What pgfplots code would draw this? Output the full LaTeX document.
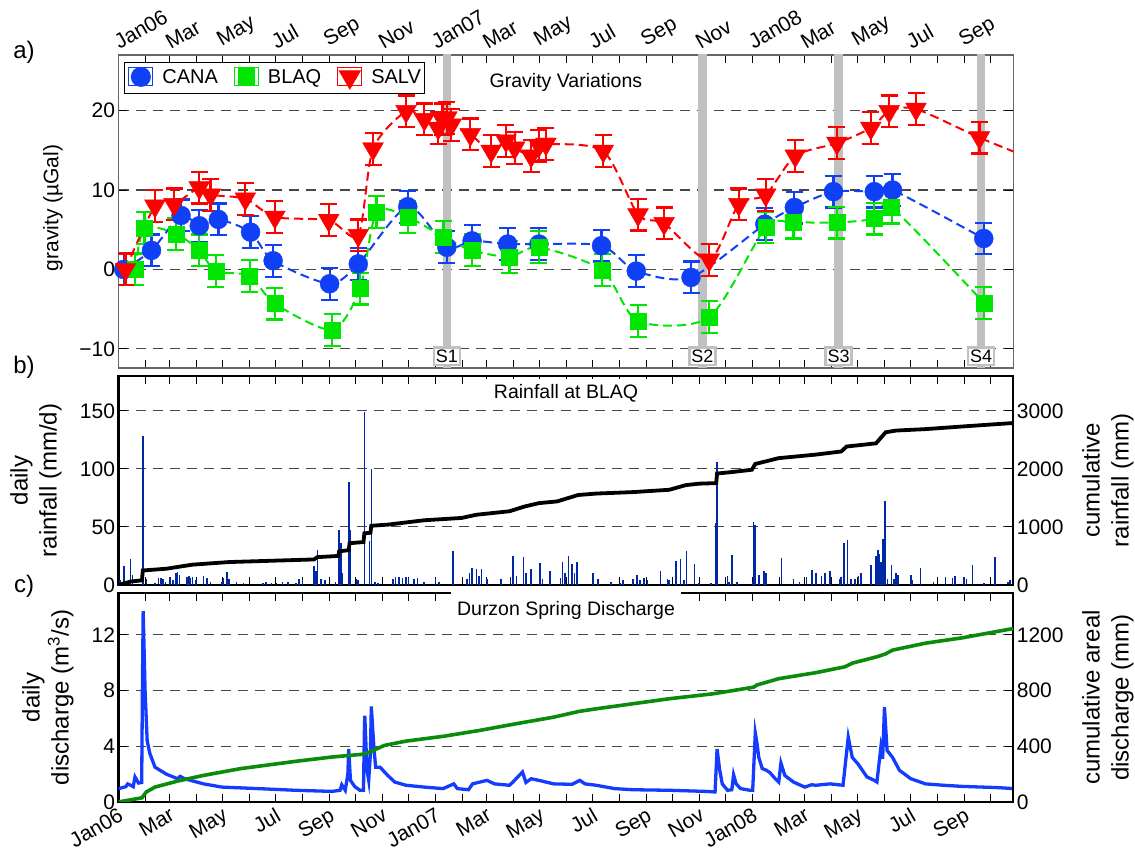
\documentclass[border=0pt]{standalone}
\usepackage{pgfplots}
\pgfplotsset{compat=1.18}
\usepackage{fontspec}
\setmainfont{Liberation Sans}
\definecolor{cana}{RGB}{16,64,245}
\definecolor{blaq}{RGB}{0,230,0}
\definecolor{salv}{RGB}{255,0,0}
\definecolor{rainb}{RGB}{0,40,165}
\definecolor{disch}{RGB}{20,60,255}
\definecolor{cumg}{RGB}{10,140,10}
\definecolor{sbar}{RGB}{192,192,192}
\pgfplotsset{
  common/.style={
    scale only axis, width=894.8pt, xmin=0, xmax=1030,
    xtick={0,59,120,181,243,304,365,424,485,546,608,669,730,790,851,912,974},
    minor xtick={31,90,151,212,273,334,396,455,516,577,638,699,761,821,882,943,1004},
    tick align=inside, major tick length=8pt, minor tick length=8pt,
    ymajorgrids, grid style={dash pattern=on 10pt off 7pt, black!72, line width=1.1pt},
    tick label style={font=\fontsize{21}{25}\selectfont},
    /pgf/number format/assume math mode=true,
    tick style={black, line width=1pt}, minor tick style={black, line width=1pt},
  },
  rightax/.style={
    scale only axis, width=894.8pt, xmin=0, xmax=1030,
    axis x line=none, axis y line*=right,
    tick align=inside, major tick length=8pt,
    tick label style={font=\fontsize{21}{25}\selectfont},
    /pgf/number format/assume math mode=true,
    tick style={black, line width=1pt},
    axis line style={black, line width=2.2pt},
  },
  ebar/.style={error bars/.cd, y dir=both, y fixed=2, error bar style={line width=2.2pt, #1},
    error mark options={rotate=90, mark size=8.5pt, line width=2.2pt, #1}},
}
\newcommand{\mlabels}{Jan06,Mar,May,Jul,Sep,Nov,Jan07,Mar,May,Jul,Sep,Nov,Jan08,Mar,May,Jul,Sep}
\begin{document}
\begin{tikzpicture}
\useasboundingbox (0,0) rectangle (1135pt,850pt);
% ---------------- panel a
\begin{axis}[common, at={(118.5pt,482pt)}, anchor=south west, height=313pt,
  ymin=-12.4, ymax=27, ytick={-10,0,10,20}, yticklabels={−10,0,10,20},
  xticklabel pos=upper, xticklabels/.expand once={\mlabels},
  xticklabel style={rotate=30, anchor=south west, font=\fontsize{21}{25}\selectfont},
  axis line style={black!60, line width=1.2pt},
  legend style={at={(0.006,0.978)}, anchor=north west, draw=black, line width=1pt,
     font=\fontsize{20}{24}\selectfont, legend columns=3, inner xsep=4pt, inner ysep=5pt,
     nodes={inner sep=0pt},
     /tikz/every odd column/.append style={column sep=9pt},
     /tikz/every even column/.append style={column sep=16pt}},
  legend image code/.code={\path (0pt,-9pt) rectangle (24pt,9pt); \draw[#1] plot coordinates {(12pt,0pt)};},
  legend cell align=left,
]
\addplot[sbar, line width=8.5pt, forget plot] coordinates {(378,-20) (378,40)};
\addplot[sbar, line width=8.5pt, forget plot] coordinates {(672,-20) (672,40)};
\addplot[sbar, line width=8.5pt, forget plot] coordinates {(829,-20) (829,40)};
\addplot[sbar, line width=8.5pt, forget plot] coordinates {(993,-20) (993,40)};
% dashed connecting curves
\addplot[cana, line width=2pt, dash pattern=on 9pt off 5pt, smooth, tension=0.45, forget plot] coordinates {
(6,0.0)(38,2.4)(72,6.8)(93,5.5)(115,6.3)(152,4.7)(178,1.1)(243,-1.8)(276,0.7)(333,7.9)(378,2.8)(407,3.6)(448,3.2)(484,3.2)(556,3.0)(596,-0.2)(659,-1.0)(744,5.7)(778,7.8)(823,9.8)(870,9.8)(891,10.0)(996,3.9)};
\addplot[blaq, line width=2pt, dash pattern=on 9pt off 5pt, smooth, tension=0.45, forget plot] coordinates {
(19,0)(30,5.2)(66,4.5)(93,2.4)(112,-0.2)(151,-0.8)(180,-4.3)(246,-7.6)(278,-2.4)(297,7.2)(333,6.6)(374,4.1)(407,2.4)(450,1.6)(484,2.8)(557,-0.1)(598,-6.5)(680,-6.0)(745,5.3)(777,5.9)(827,5.9)(870,6.4)(890,7.8)(996,-4.2)};
\addplot[salv, line width=2pt, dash pattern=on 9pt off 5pt, smooth, tension=0.45, forget plot] coordinates {
(8,0)(42,8.0)(64,8.2)(93,10.3)(106,9.4)(146,8.9)(180,6.6)(242,6.2)(276,4.3)(293,15.2)(331,19.9)(352,18.9)(368,17.8)(373,18.9)(378,19.1)(383,18.2)(405,17.0)(429,14.9)(446,16.2)(456,15.3)(475,14.3)(484,15.6)(492,15.8)(558,14.9)(598,6.9)(628,5.8)(680,1.2)(714,8.2)(745,9.4)(779,14.3)(827,15.9)(866,17.8)(887,19.9)(918,20.2)(991,16.6)(1045,14.2)};
% markers with error bars
\addplot[only marks, mark=*, mark size=9.5pt, cana, ebar=cana] coordinates {
(6,0.0)(38,2.4)(72,6.8)(93,5.5)(115,6.3)(152,4.7)(178,1.1)(243,-1.8)(276,0.7)(333,7.9)(378,2.8)(407,3.6)(448,3.2)(484,3.2)(556,3.0)(596,-0.2)(659,-1.0)(744,5.7)(778,7.8)(823,9.8)(870,9.8)(891,10.0)(996,3.9)};
\addlegendentry{CANA}
\addplot[only marks, mark=square*, mark size=8pt, blaq, ebar=blaq] coordinates {
(19,0)(30,5.2)(66,4.5)(93,2.4)(112,-0.2)(151,-0.8)(180,-4.3)(246,-7.6)(278,-2.4)(297,7.2)(333,6.6)(374,4.1)(407,2.4)(450,1.6)(484,2.8)(557,-0.1)(598,-6.5)(680,-6.0)(745,5.3)(777,5.9)(827,5.9)(870,6.4)(890,7.8)(996,-4.2)};
\addlegendentry{BLAQ}
\addplot[only marks, mark=triangle*, mark size=12pt, mark options={rotate=180}, salv, ebar=salv] coordinates {
(8,0)(42,8.0)(64,8.2)(93,10.3)(106,9.4)(146,8.9)(180,6.6)(242,6.2)(276,4.3)(293,15.2)(331,19.9)(352,18.9)(368,17.8)(373,18.9)(378,19.1)(383,18.2)(405,17.0)(429,14.9)(446,16.2)(456,15.3)(475,14.3)(484,15.6)(492,15.8)(558,14.9)(598,6.9)(628,5.8)(680,1.2)(714,8.2)(745,9.4)(779,14.3)(827,15.9)(866,17.8)(887,19.9)(918,20.2)(991,16.6)};
\addlegendentry{SALV}
\foreach \d/\s in {378/S1,672/S2,829/S3,993/S4}{
  \edef\tmp{\noexpand\node[draw=sbar, line width=2.5pt, fill=white, inner xsep=2pt, inner ysep=2.5pt, font=\noexpand\fontsize{18}{20}\noexpand\selectfont, anchor=south] at (axis cs:\d,-12.2) {\s};}\tmp
}
\node[font=\fontsize{19.5}{23}\selectfont] at (axis cs:515,23.6) {Gravity Variations};
\end{axis}
% ---------------- panel b
\begin{axis}[common, at={(118.5pt,265pt)}, anchor=south west, height=209pt,
  ymin=0, ymax=180, ytick={0,50,100,150}, yticklabels={0,50,100,150}, ytick pos=left,
  xticklabel=\empty,
  axis line style={black, line width=2.2pt},
]
\addplot[ycomb, rainb, line width=1.6pt] coordinates {
(2,4)(6,16)(8,3)(14,22)(16,9)(28,128)(29,48)(32,5)(42,2)(46,6)(49,6)(51,5)(54,3)(59,7)(63,4)(66,10)(68,11)(70,9)(79,7)(81,8)(83,6)(85,7)(89,4)(98,8)(102,6)(106,3)(119,3)(121,6)(125,11)(127,5)(136,3)(144,2)(166,2)(170,3)(176,2)(182,2)(189,3)(195,3)(204,2)(208,5)(212,4)
(225,16)(227,12)(229,30)(233,5)(238,4)(250,3)(254,47)(256,36)(257,10)(265,89)(267,47)(274,5)(276,4)(283,149)(289,38)(291,100)(295,3)(299,2)
(316,5)(319,7)(323,7)(327,6)(331,7)(334,6)(340,5)(344,6)(352,3)(365,6)(369,3)(385,29)(401,5)(404,10)(407,15)(412,14)(415,8)(418,14)(424,5)(440,5)(451,7)(454,25)(458,8)(466,24)(469,10)(475,14)(485,19)(488,5)(497,12)(509,6)(511,20)(514,10)(518,25)(522,18)(525,10)(528,20)
(546,10)(552,5)(567,3)(577,2)(581,4)(592,5)(597,9)(600,4)(605,6)(609,4)(624,12)(632,5)(634,4)(642,21)(647,22)(651,4)(654,29)(663,18)(668,2)(682,2)(688,53)(689,106)(701,8)(703,3)(706,26)(712,3)(730,3)(731,54)(733,52)(737,9)(743,12)(745,10)(763,23)(777,5)(784,3)(792,7)(798,13)(803,10)(809,8)(813,10)(819,12)(830,5)(832,7)(835,36)(839,39)(843,5)(848,5)(852,8)(855,10)(866,17)(872,25)(874,30)(876,27)(878,20)(880,40)(882,72)(885,5)(890,17)(893,5)(895,10)(897,9)(912,9)(914,4)(923,15)(938,3)(952,7)(960,6)(963,8)(973,7)(976,5)(983,17)(996,2)(1009,24)(1024,3)(1026,4)};
\end{axis}
\begin{axis}[rightax, at={(118.5pt,265pt)}, anchor=south west, height=209pt,
  ymin=0, ymax=3600, ytick={0,1000,2000,3000}, yticklabels={0,1000,2000,3000},
]
\addplot[black, line width=3.8pt] coordinates {
(0,0)(14,60)(27,80)(28,250)(55,280)(85,350)(127,395)(225,440)(229,480)(253,500)(254,580)(265,600)(266,720)(282,740)(283,890)(290,900)(291,1020)(310,1040)(352,1115)(395,1155)(412,1210)(450,1270)(467,1350)(484,1410)(505,1440)(529,1550)(550,1575)(592,1600)(634,1640)(653,1720)(668,1745)(688,1755)(689,1920)(706,1945)(729,1985)(733,2085)(744,2125)(760,2185)(802,2245)(832,2300)(838,2385)(872,2440)(883,2630)(895,2660)(929,2685)(971,2730)(1030,2790)};
\end{axis}
% ---------------- panel c
\begin{axis}[common, at={(118.5pt,48pt)}, anchor=south west, height=209pt,
  ymin=0, ymax=15, ytick={0,4,8,12}, yticklabels={0,4,8,12}, ytick pos=left,
  xticklabels/.expand once={\mlabels},
  xticklabel style={rotate=30, anchor=north east, font=\fontsize{21}{25}\selectfont},
  axis line style={black, line width=2.2pt},
]
\addplot[disch, line width=3.3pt] coordinates {
(0,0.96)(8.5,1.1)(10.6,1.3)(14,1.2)(17,1.1)(19,1.8)(23,1.36)(26.7,1.4)(27.5,8)(28.4,13.7)(30.6,8)(33,4.4)(36,3.5)(42,2.5)(55,2.0)(68,1.67)(71,1.84)(76,1.67)(98,1.3)(119,1.07)(161,0.96)(204,0.84)(246,0.76)(255,0.84)(257,1.24)(261,0.84)(264,2)(265,3.8)(267,1.55)(272,1.1)(278,0.84)(282,0.84)(283,5)(283.5,6.2)(286,2.3)(288,1.55)(290,3.5)(291,6.86)(294,3.9)(296,2.5)(301,2.5)(310,1.9)(318,1.43)(331,1.2)(352,1.07)(373.5,0.96)(386,1.3)(390,0.96)(403,0.88)(407.5,1.3)(416,1.43)(424,1.55)(433,1.3)(450,1.2)(454,1.43)(465,2.15)(469,1.4)(475,1.67)(484,1.55)(501,1.3)(522,1.27)(531,1.55)(537,1.3)(550,1.2)(571,0.96)(592,0.88)(634,0.84)(676,0.76)(686.7,0.72)(689,3.8)(692,2.3)(695,1.3)(701,0.84)(706,0.88)(708,1.96)(711,1.3)(716,0.96)(727,0.84)(730,0.84)(733,4.95)(735,4.2)(737,3.2)(741,2.4)(746,2.27)(750,2.1)(756,1.67)(760,1.43)(762.5,2.8)(767,1.9)(777,1.43)(790,1.07)(798,1.24)(802.5,1.2)(819,1.3)(834,1.2)(840,4.66)(844.6,3.2)(851,2.75)(861.5,1.8)(870,1.55)(873,1.43)(877.5,3.9)(879.6,3.1)(881.7,6.8)(884.7,3.7)(891,3.2)(899,2.27)(912,1.67)(929,1.3)(950,1.2)(971,1.12)(1013,1.03)(1030,0.96)};
\end{axis}
\begin{axis}[rightax, at={(118.5pt,48pt)}, anchor=south west, height=209pt,
  ymin=0, ymax=1500, ytick={0,400,800,1200}, yticklabels={0,400,800,1200},
]
\addplot[cumg, line width=3.6pt] coordinates {
(0,0)(27,30)(32,72)(42,107)(68,150)(98,191)(140,239)(204,292)(246,323)(280,342)(289,358)(306,406)(331,437)(373.5,471)(416,514)(458,562)(501,609)(530,650)(550,669)(592,705)(634,741)(685,777)(731,824)(735,840)(760,885)(802.5,928)(836,970)(845,997)(874,1044)(883,1063)(891,1090)(929,1140)(971,1178)(1030,1245)};
\end{axis}
% titles with white boxes
\node[fill=white, inner xsep=22pt, inner ysep=5pt, font=\fontsize{19.5}{23}\selectfont] at (566pt,457pt) {Rainfall at BLAQ};
\node[fill=white, inner xsep=6pt, inner ysep=9pt, font=\fontsize{19.5}{23}\selectfont] at (566pt,240pt) {Durzon Spring Discharge};
% axis labels
\node[rotate=90, font=\fontsize{21}{25}\selectfont] at (53pt,642pt) {gravity (µGal)};
\node[rotate=90, align=center, font=\fontsize{24}{29}\selectfont] at (36pt,369.5pt) {daily\\rainfall (mm/d)};
\node[rotate=90, align=center, font=\fontsize{24}{29}\selectfont] at (48pt,152.5pt) {daily\\discharge (m\textsuperscript{3}/s)};
\node[rotate=90, align=center, font=\fontsize{24}{29}\selectfont] at (1108pt,369.5pt) {cumulative\\rainfall (mm)};
\node[rotate=90, align=center, font=\fontsize{24}{29}\selectfont] at (1108pt,152.5pt) {cumulative areal\\discharge (mm)};
% panel letters
\node[font=\fontsize{24}{28}\selectfont] at (24pt,798pt) {a)};
\node[font=\fontsize{24}{28}\selectfont] at (24pt,483pt) {b)};
\node[font=\fontsize{24}{28}\selectfont] at (24pt,264pt) {c)};
\end{tikzpicture}
\end{document}
